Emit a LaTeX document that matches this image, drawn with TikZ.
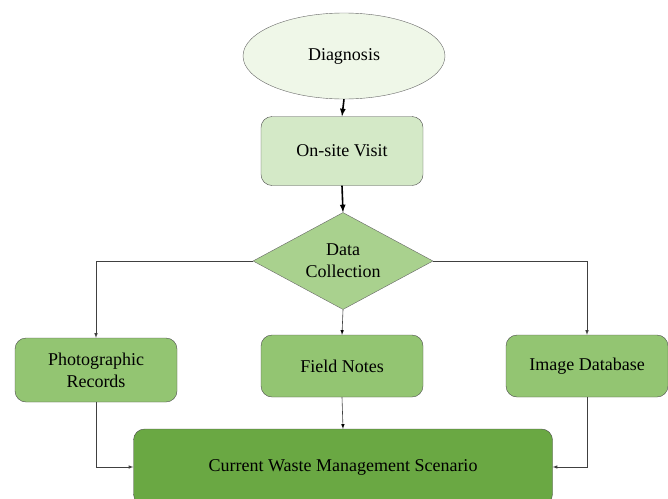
\documentclass[tikz,border=0pt]{standalone}
\usepackage{fontspec}
\setmainfont{Liberation Serif}
\usetikzlibrary{shapes.geometric}

\definecolor{paleGreen}{HTML}{EFF7E8}
\definecolor{lightGreen}{HTML}{D4E9C7}
\definecolor{midGreen}{HTML}{A9D18E}
\definecolor{boxGreen}{HTML}{93C572}
\definecolor{darkGreen}{HTML}{6AA843}

\begin{document}
\begin{tikzpicture}[>=latex, x=1pt, y=-1pt, font=\fontsize{18}{22}\selectfont,
  box/.style={draw=black!70, rounded corners=11pt, minimum width=162pt, inner sep=0pt, align=center},
  link/.style={draw=black!75, line width=0.6pt}]
\clip (0,0) rectangle (668,498);

\node(Diag)[draw=black!60, ellipse, fill=paleGreen, minimum width=202pt, minimum height=86pt] at (344,56) {Diagnosis};
\node(Visit)[box, fill=lightGreen, minimum height=69pt] at (342,151) {On-site Visit};
\node(Data)[draw=black!60, diamond, aspect=1.85, fill=midGreen, inner sep=0pt, minimum width=180pt, minimum height=97pt, align=center] at (343,261) {Data\\Collection};

\node(Photo)[box, fill=boxGreen, minimum height=64pt] at (96,370) {Photographic\\Records};
\node(Field)[box, fill=boxGreen, minimum height=62pt] at (342,366) {Field Notes};
\node(Image)[box, fill=boxGreen, minimum height=62pt] at (587,366) {Image Database};
\node(Current)[box, fill=darkGreen, minimum width=419pt, minimum height=76pt] at (343,467) {Current Waste Management Scenario};

\draw[line width=1.6pt] (Diag.south) edge[->] (Visit.north);
\draw[line width=1.6pt] (Visit.south) edge[->] (Data.north);
\draw[link, ->] (Data.west) -| (Photo.north);
\draw[link, ->] (Data.east) -| (Image.north);
\draw[link] (Data.south) edge[->] (Field.north);
\draw[link] (Field.south) edge[->] (Current.north);
\draw[link, ->] (Photo.south) |- (Current.west);
\draw[link, ->] (Image.south) |- (Current.east);
\end{tikzpicture}
\end{document}
